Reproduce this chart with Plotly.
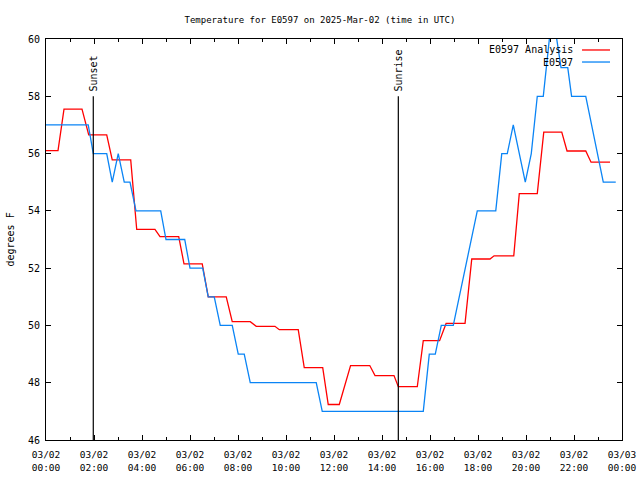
import pandas as pd
import plotly.graph_objects as go

BASE = "2025-03-02"

# E0597 Analysis (red): hours after 00:00 UTC, degrees F
analysis_hours = [0, 0.5, 0.75, 1.5, 1.78, 2.53, 2.76, 3.53, 3.78, 4.54, 4.75, 5.53, 5.75,
                  6.51, 6.76, 7.51, 7.76, 8.51, 8.76, 9.54, 9.72, 10.51, 10.76, 11.53, 11.76,
                  12.22, 12.69, 13.49, 13.71, 14.5, 14.68, 15.47, 15.72, 16.4, 16.67, 17.46,
                  17.74, 18.5, 18.67, 19.49, 19.72, 20.47, 20.74, 21.49, 21.71, 22.49, 22.71, 23.5]
analysis_temps = [56.1, 56.1, 57.55, 57.55, 56.65, 56.65, 55.78, 55.78, 53.35, 53.35, 53.1, 53.1, 52.15,
                  52.15, 51.0, 51.0, 50.13, 50.13, 49.97, 49.97, 49.85, 49.85, 48.53, 48.53, 47.24,
                  47.24, 48.6, 48.6, 48.25, 48.25, 47.86, 47.86, 49.47, 49.47, 50.07, 50.07,
                  52.32, 52.32, 52.43, 52.43, 54.6, 54.6, 56.75, 56.75, 56.09, 56.09, 55.7, 55.7]

# E0597 observations (blue)
obs_hours = [0, 1.76, 1.97, 2.53, 2.76, 3.01, 3.26, 3.5, 3.75, 4.78, 5.0, 5.78, 6.0, 6.53, 6.76,
             7.01, 7.26, 7.76, 8.01, 8.26, 8.51, 11.26, 11.51, 15.72, 15.97, 16.22, 16.47, 16.97,
             17.97, 18.74, 18.99, 19.22, 19.47, 19.97, 20.22, 20.47, 20.72, 21.1, 21.46, 21.74,
             21.9, 22.49, 23.22, 23.74]
obs_temps = [57, 57, 56, 56, 55, 56, 55, 55, 54, 54, 53, 53, 52, 52, 51,
             51, 50, 50, 49, 49, 48, 48, 47, 47, 49, 49, 50, 50,
             54, 54, 56, 56, 57, 55, 56, 58, 58, 61, 59, 59,
             58, 58, 55, 55]

sunset_hour = 1.97
sunrise_hour = 14.68
marker_top = 58

tick_hours = list(range(0, 25, 2))
tick_dates = ["03/02"] * 12 + ["03/03"]
tick_times = ["%02d:00" % (h % 24) for h in tick_hours]

base = pd.Timestamp(BASE)
def to_time(hours):
    return [base + pd.Timedelta(hours=h) for h in hours]

FONT = "DejaVu Sans Mono"
RED = "#ff0000"
BLUE = "#0a84f5"

W, H = 640, 480

fig = go.Figure()
fig.add_trace(go.Scatter(x=to_time(analysis_hours), y=analysis_temps, mode="lines",
                         line=dict(color=RED, width=1.3), name="E0597 Analysis"))
fig.add_trace(go.Scatter(x=to_time(obs_hours), y=obs_temps, mode="lines",
                         line=dict(color=BLUE, width=1.3), name="E0597"))

for hr, label in [(sunset_hour, "Sunset"), (sunrise_hour, "Sunrise")]:
    t = to_time([hr])[0]
    fig.add_shape(type="line", xref="x", yref="y", x0=t, x1=t, y0=46, y1=marker_top,
                  line=dict(color="black", width=1.2))
    fig.add_annotation(x=t, y=marker_top, xref="x", yref="y", text=label, textangle=-90,
                       showarrow=False, xanchor="center", yanchor="bottom", yshift=3,
                       font=dict(family=FONT, size=10, color="black"))

# legend (text right, sample line to its right)
legend_items = [("E0597 Analysis", RED, 0.9726), ("E0597", BLUE, 0.9426)]
for name, col, yy in legend_items:
    fig.add_annotation(x=0.9184, y=yy, xref="paper", yref="paper", text=name, showarrow=False,
                       xanchor="right", yanchor="middle", font=dict(family=FONT, size=10, color="black"))
    fig.add_shape(type="line", xref="paper", yref="paper", x0=0.9306, x1=0.9792, y0=yy, y1=yy,
                  line=dict(color=col, width=1.3))

# y-axis title
fig.add_annotation(x=-0.0625, y=0.5, xref="paper", yref="paper", text="degrees F", textangle=-90,
                   showarrow=False, xanchor="center", yanchor="middle",
                   font=dict(family=FONT, size=10, color="black"))

fig.update_layout(
    width=W, height=H,
    margin=dict(l=46, r=18, t=39, b=40),
    paper_bgcolor="white", plot_bgcolor="white",
    showlegend=False, hovermode=False,
    font=dict(family=FONT, size=10, color="black"),
    title=dict(text="Temperature for E0597 on 2025-Mar-02 (time in UTC)", x=0.5, xref="container",
               y=1 - 20 / H, yref="container", xanchor="center", yanchor="middle",
               automargin=False,
               font=dict(family=FONT, size=9, color="black")),
    xaxis=dict(range=[base, base + pd.Timedelta(hours=24)], type="date", automargin=False,
               tickvals=to_time(tick_hours),
               ticktext=[d + "<br>" + tm for d, tm in zip(tick_dates, tick_times)],
               ticks="inside", ticklen=5, tickcolor="black", tickwidth=1,
               minor=dict(dtick=3600000, ticks="inside", ticklen=3, tickcolor="black", showgrid=False),
               showline=True, linecolor="black", linewidth=1, mirror="ticks",
               showgrid=False, zeroline=False, ticklabelstandoff=6,
               tickfont=dict(family=FONT, size=9.5)),
    yaxis=dict(range=[46, 60], tickvals=[46, 48, 50, 52, 54, 56, 58, 60], automargin=False,
               ticks="inside", ticklen=5, tickcolor="black", tickwidth=1,
               showline=True, linecolor="black", linewidth=1, mirror="ticks",
               showgrid=False, zeroline=False, ticklabelstandoff=3,
               tickfont=dict(family=FONT, size=10)),
)

# remove the browser's default 8px body margin so the figure fills the window exactly
fig.write_html("out.html", config={"displayModeBar": False, "staticPlot": True},
               post_script="document.body.style.margin='0';")
